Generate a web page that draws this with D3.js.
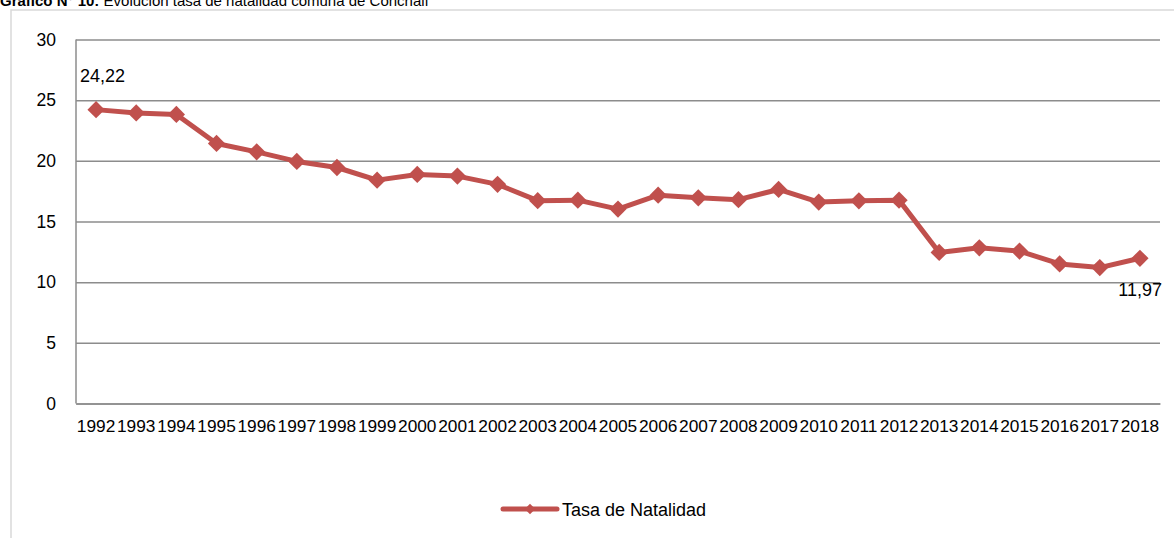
<!DOCTYPE html>
<html>
<head>
<meta charset="utf-8">
<script src="https://cdn.jsdelivr.net/npm/d3@7"></script>
<style>
body { margin: 0; background: #fff; }
svg { display: block; font-family: "Liberation Sans", Arial, sans-serif; }
</style>
</head>
<body>
<script>
"use strict";
const years = ["1992","1993","1994","1995","1996","1997","1998","1999","2000","2001","2002","2003","2004","2005","2006","2007","2008","2009","2010","2011","2012","2013","2014","2015","2016","2017","2018"];
const tasa = [24.22,23.95,23.82,21.43,20.74,19.95,19.45,18.41,18.88,18.74,18.06,16.72,16.76,16.02,17.17,16.95,16.8,17.64,16.6,16.7,16.76,12.45,12.83,12.56,11.5,11.2,11.97];
const yTicks = [0,5,10,15,20,25,30];
const seriesName = "Tasa de Natalidad";
const color = "#c0504d";

const w = 1174, h = 538;
const pLeft = 76, pRight = 1160, pTop = 39.5, pBottom = 403.5;
const ff = "Liberation Sans, Arial, sans-serif";

const svg = d3.select("body").append("svg").attr("width", w).attr("height", h);

svg.append("text").attr("x", 0).attr("y", 6).style("font-size", "15px")
	.call(t => {
		t.append("tspan").style("font-weight", "bold").text("Gráfico N° 10:");
		t.append("tspan").text(" Evolución tasa de natalidad comuna de Conchalí");
	});
svg.append("rect").attr("x", 11).attr("y", 10).attr("width", 1180).attr("height", 560)
	.attr("fill", "none").attr("stroke", "#d9d9d9").attr("stroke-width", 1.5);

const xScale = d3.scaleBand().domain(years).range([pLeft, pRight]);
const yScale = d3.scaleLinear().domain([0, 30]).range([pBottom, pTop]);

const grid = svg.append("g").attr("transform", "translate(" + pLeft + ",0)")
	.call(d3.axisLeft(yScale).tickValues(yTicks).tickSize(-(pRight - pLeft)).tickPadding(20).tickFormat(d3.format("d")));
grid.select(".domain").remove();
grid.selectAll("line").attr("stroke", "#8c8c8c").attr("stroke-width", 1.5);
grid.selectAll("text").style("font-size", "17.5px").attr("fill", "#000").attr("font-family", ff);

svg.append("line").attr("x1", pLeft).attr("x2", pLeft).attr("y1", pTop).attr("y2", pBottom)
	.attr("stroke", "#8c8c8c").attr("stroke-width", 1.5);

const xAxis = svg.append("g").attr("transform", "translate(0," + pBottom + ")")
	.call(d3.axisBottom(xScale).tickSize(0).tickPadding(16));
xAxis.select(".domain").attr("stroke", "#8c8c8c").attr("stroke-width", 1.5);
xAxis.selectAll("text").style("font-size", "17.3px").attr("fill", "#000").attr("font-family", ff);

const cx = d => xScale(d) + xScale.bandwidth() / 2;
const line = d3.line().x((d, i) => cx(years[i])).y(d => yScale(d));
svg.append("path").datum(tasa).attr("d", line).attr("fill", "none")
	.attr("stroke", color).attr("stroke-width", 5).attr("stroke-linejoin", "round");

const diamond = d3.symbol().type(d3.symbolDiamond2).size(190);
svg.selectAll(".pt").data(tasa).enter().append("path").attr("class", "pt")
	.attr("d", diamond).attr("fill", color)
	.attr("transform", (d, i) => "translate(" + cx(years[i]) + "," + yScale(d) + ")");

const fmt = v => v.toFixed(2).replace(".", ",");
svg.append("text").attr("x", cx(years[0]) - 16).attr("y", yScale(tasa[0]) - 28)
	.style("font-size", "18px").text(fmt(tasa[0]));
const last = tasa.length - 1;
svg.append("text").attr("x", cx(years[last]) + 22).attr("y", yScale(tasa[last]) + 38)
	.attr("text-anchor", "end").style("font-size", "18px").text(fmt(tasa[last]));

const lg = svg.append("g").attr("transform", "translate(503,509)");
lg.append("line").attr("x1", 0).attr("x2", 54).attr("stroke", color).attr("stroke-width", 5).attr("stroke-linecap", "round");
lg.append("path").attr("d", d3.symbol().type(d3.symbolDiamond2).size(70)).attr("fill", color).attr("transform", "translate(27,0)");
lg.append("text").attr("x", 59).attr("y", 6.5).style("font-size", "18px").text(seriesName);
</script>
</body>
</html>
